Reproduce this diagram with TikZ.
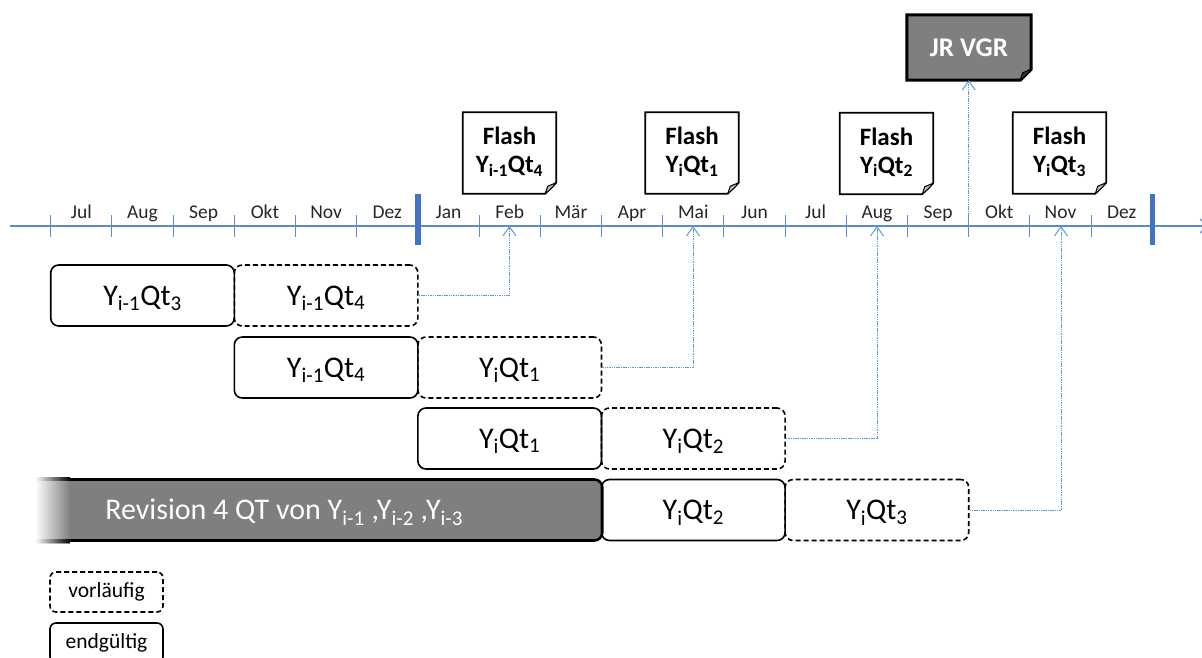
\documentclass[tikz,border=0pt]{standalone}
\usepackage{fontspec}
\setmainfont{Carlito}
\usetikzlibrary{arrows.meta,backgrounds}
\definecolor{tl}{HTML}{5B8BD0}
\definecolor{tlthick}{HTML}{4472C4}
\definecolor{connc}{HTML}{5B9BD5}
\definecolor{boxgray}{HTML}{7F7F7F}
\newcommand\sbx[1]{\textsubscript{#1}}
\newcommand\twolines[2]{\raisebox{3pt}{\begin{tabular}{@{}c@{}}#1\\#2\end{tabular}}}
\newcommand\docframe[2]{%
  \draw[line width=1.8pt, fill=#2, line join=miter] (#1.north west) -- (#1.north east) -- ([yshift=11pt]#1.south east) -- ([xshift=-11pt]#1.south east) -- (#1.south west) -- cycle;
  \draw[line width=1pt, fill=gray!55, line join=round] ([yshift=11pt]#1.south east) .. controls ([xshift=-4pt,yshift=6pt]#1.south east) .. ([xshift=-11pt]#1.south east) -- ([xshift=-8.5pt,yshift=7.5pt]#1.south east) -- cycle;}
\tikzset{
  month/.style={anchor=base, font=\fontsize{19.5}{22}\selectfont, text=black!85, inner sep=0pt},
  qbox/.style={draw=black, line width=1.6pt, rounded corners=8pt, minimum width=183.6pt, minimum height=61pt, inner sep=0pt, text height=19pt, text depth=0pt, font=\fontsize{30}{32}\selectfont},
  prelim/.style={qbox, dashed, dash pattern=on 5pt off 3pt},
  final/.style={qbox},
  docnode/.style={minimum width=93pt, minimum height=81pt, inner sep=0pt, align=center, font=\bfseries\fontsize{25}{28}\selectfont},
  connector/.style={draw=connc, line width=0.9pt, dash pattern=on 1.5pt off 0.8pt, -{Straight Barb[length=9pt,width=13pt,line width=1pt]}},
  legbox/.style={draw=black, line width=1.6pt, rounded corners=6pt, minimum width=113pt, minimum height=40pt, inner sep=0pt, font=\fontsize{21.5}{24}\selectfont},
}
\begin{document}
\begin{tikzpicture}[x=1pt,y=-1pt]
\useasboundingbox (0,0) rectangle (1202,657);
% timeline
\draw[tl, line width=1.2pt, -{Straight Barb[length=6pt,width=14pt]}] (10,226) -- (1207,226);
\foreach \k in {0,...,5,7,8,...,17}
  \draw[tl, line width=1.1pt] ({50.7+61.2*\k},215) -- ({50.7+61.2*\k},237);
\foreach \k in {6,18}
  \fill[tlthick] ({50.7+61.2*\k-2.6},194) rectangle ({50.7+61.2*\k+2.6},245);
\foreach \m [count=\i from 0] in {Jul,Aug,Sep,Okt,Nov,Dez,Jan,Feb,Mär,Apr,Mai,Jun,Jul,Aug,Sep,Okt,Nov,Dez}
  \node[month] (m\i) at ({50.7+61.2*(\i+0.5)},218) {\m};
% targets on the timeline
\coordinate (tfeb) at (509.5,226);
\coordinate (tmai) at (693,226);
\coordinate (taug) at (877,226);
\coordinate (tnov) at (1061,226);
\coordinate (tokt) at (968.7,226);
% flash documents
\node[docnode] (fA) at (509.5,153) {\twolines{Flash}{Y\sbx{i-1}Qt\sbx{4}}};
\node[docnode] (fB) at (692,153) {\twolines{Flash}{Y\sbx{i}Qt\sbx{1}}};
\node[docnode] (fC) at (886.5,153.5) {\twolines{Flash}{Y\sbx{i}Qt\sbx{2}}};
\node[docnode] (fD) at (1059.5,153) {\twolines{Flash}{Y\sbx{i}Qt\sbx{3}}};
\node[docnode, minimum width=124pt, minimum height=65pt, text=white, font=\bfseries\fontsize{27}{30}\selectfont] (jr) at (969,47.5) {JR VGR};
\begin{scope}[on background layer]
  \docframe{fA}{white}
  \docframe{fB}{white}
  \docframe{fC}{white}
  \docframe{fD}{white}
  \draw[line width=3pt, fill=boxgray, line join=miter] (jr.north west) -- (jr.north east) -- ([yshift=11pt]jr.south east) -- ([xshift=-11pt]jr.south east) -- (jr.south west) -- cycle;
  \draw[line width=1pt, fill=black!80, line join=round] ([yshift=11pt]jr.south east) .. controls ([xshift=-4pt,yshift=6pt]jr.south east) .. ([xshift=-11pt]jr.south east) -- ([xshift=-8.5pt,yshift=7.5pt]jr.south east) -- cycle;
\end{scope}
% quarter boxes
\node[final]  (r1a) at (142.5,295.5) {Y\sbx{i-1}Qt\sbx{3}};
\node[prelim] (r1b) at (326.1,295.5) {Y\sbx{i-1}Qt\sbx{4}};
\node[final]  (r2a) at (326.1,367.5) {Y\sbx{i-1}Qt\sbx{4}};
\node[prelim] (r2b) at (509.7,367.5) {Y\sbx{i}Qt\sbx{1}};
\node[final]  (r3a) at (509.7,438.5) {Y\sbx{i}Qt\sbx{1}};
\node[prelim] (r3b) at (693.3,438.5) {Y\sbx{i}Qt\sbx{2}};
% revision bar
\node[draw=black, fill=boxgray, line width=2.6pt, rounded corners=8pt, anchor=west, minimum width=563pt, minimum height=61pt, inner xsep=0pt, inner ysep=0pt, text height=19pt, text depth=0pt, text=white, font=\fontsize{30}{32}\selectfont] (rev) at (38,510) {\makebox[563pt][l]{\hspace{66pt}Revision 4 QT von Y\sbx{i-1} ,Y\sbx{i-2} ,Y\sbx{i-3}}};
\shade[left color=white, right color=boxgray] (35,477) rectangle (70,543);
\shade[left color=white, right color=black] (35,477.7) rectangle (70,480.3);
\shade[left color=white, right color=black] (35,539.7) rectangle (70,542.3);
\node[final]  (r4a) at (693.3,510) {Y\sbx{i}Qt\sbx{2}};
\node[prelim] (r4b) at (876.9,510) {Y\sbx{i}Qt\sbx{3}};
% connectors
\draw[connector] (r1b.east) -| (tfeb);
\draw[connector] (r2b.east) -| (tmai);
\draw[connector] (r3b.east) -| (taug);
\draw[connector] (r4b.east) -| (tnov);
\draw[connector] (tokt) -- (jr.south -| tokt);
% legend
\node[legbox, dashed, dash pattern=on 5pt off 3pt] (leg1) at (106.5,592) {vorläufig};
\node[legbox] (leg2) at (106.5,643) {endgültig};
\end{tikzpicture}
\end{document}
